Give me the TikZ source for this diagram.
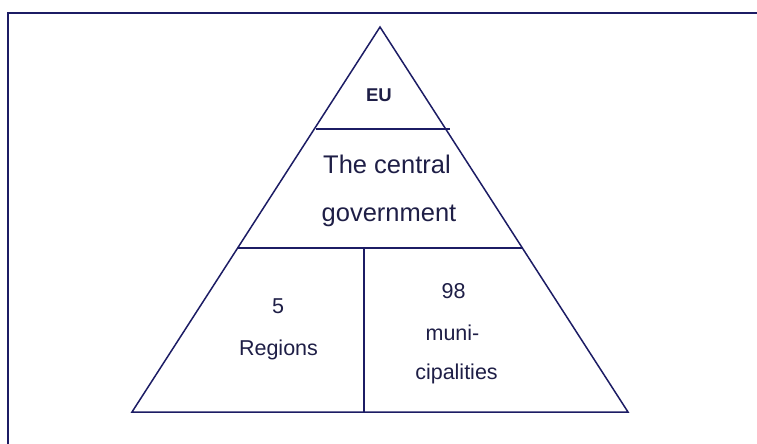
\documentclass[tikz,border=0pt]{standalone}
\usepackage{fontspec}
\setmainfont{Liberation Sans}
\definecolor{navy}{RGB}{28,28,100}
\definecolor{txt}{RGB}{30,30,70}
\begin{document}
\begin{tikzpicture}[x=1pt,y=-1pt,
  frameline/.style={draw=navy,line width=2pt},
  triline/.style={draw=navy,line width=1.5pt,line join=miter},
  lbl/.style={anchor=base,inner sep=0pt,text=txt,font=\fontsize{21.5}{24}\selectfont},
  biglbl/.style={anchor=base,inner sep=0pt,text=txt,font=\fontsize{25.5}{28}\selectfont},
  eulbl/.style={anchor=base,inner sep=0pt,text=txt,font=\bfseries\fontsize{18.5}{20}\selectfont}]
\useasboundingbox (0,0) rectangle (757,444);
% frame
\coordinate (fb) at (8,444);
\coordinate (fc) at (8,13);
\coordinate (fr) at (757,13);
\draw[frameline] (fb) -- (fc) -- (fr);
% triangle
\coordinate (A) at (380,27);
\coordinate (B) at (132,412);
\coordinate (C) at (628,412);
\draw[triline] (A) -- (B) -- (C) -- cycle;
\coordinate (e1) at (316,129);
\coordinate (e2) at (450,129);
\draw[triline] (e1) -- (e2);
\coordinate (g1) at (238,248);
\coordinate (g2) at (522,248);
\draw[triline] (g1) -- (g2);
\coordinate (v1) at (364,248);
\coordinate (v2) at (364,412);
\draw[triline] (v1) -- (v2);
% labels
\node[eulbl] (eu) at (379,101) {EU};
\node[biglbl] (cg1) at (387,173) {The central};
\node[biglbl] (cg2) at (389,221) {government};
\node[lbl] (r1) at (278,313) {5};
\node[lbl] (r2) at (278.5,355) {Regions};
\node[lbl] (m1) at (453.5,298) {98};
\node[lbl] (m2) at (452.5,340) {muni-};
\node[lbl] (m3) at (456.5,379) {cipalities};
\end{tikzpicture}
\end{document}
